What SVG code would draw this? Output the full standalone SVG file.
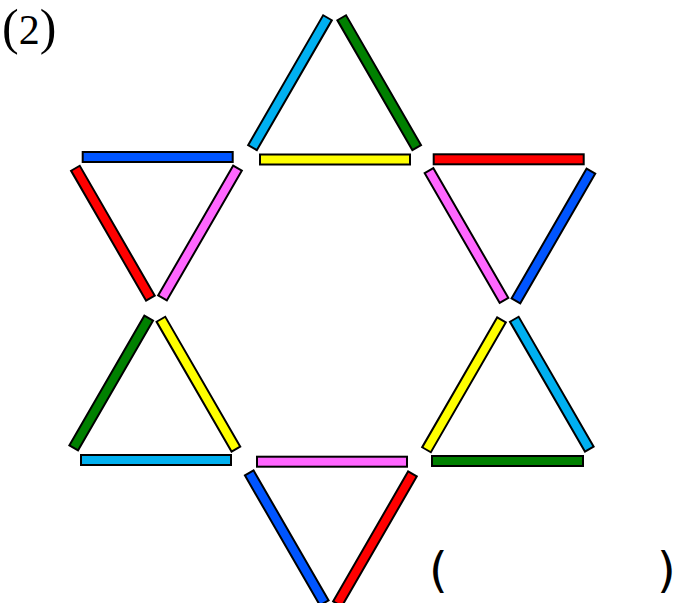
<svg xmlns="http://www.w3.org/2000/svg" width="680" height="603" viewBox="0 0 680 603">
<style>
.s{stroke:#000;stroke-width:2;stroke-linejoin:miter}
.cy{fill:#00b0f0}.gr{fill:#008000}.ye{fill:#ffff00}.bl{fill:#0055ff}.rd{fill:#ff0000}.pk{fill:#ff66ff}
.lbl{font-family:"Liberation Serif","Times New Roman",serif;font-size:42px;fill:#000}
.big{font-size:50px}
.par{font-family:"DejaVu Sans",sans-serif;font-size:48px;fill:#000}
</style>
<rect width="680" height="603" fill="#fff"/>
<text class="lbl" x="2" y="43.5"><tspan class="big">(</tspan>2<tspan class="big">)</tspan></text>
<g id="tri-top">
<rect class="s cy" x="-75" y="-5" width="150" height="10" transform="translate(290,82.7) rotate(-60)"/>
<rect class="s gr" x="-75" y="-5" width="150" height="10" transform="translate(379.2,82.7) rotate(60)"/>
<rect class="s ye" x="260" y="154.5" width="150" height="10"/>
</g>
<g id="tri-upper-left">
<rect class="s bl" x="82.7" y="152" width="150" height="10"/>
<rect class="s rd" x="-75" y="-5" width="150" height="10" transform="translate(112.9,233.2) rotate(60)"/>
<rect class="s pk" x="-75" y="-5" width="150" height="10" transform="translate(200,233) rotate(-60)"/>
</g>
<g id="tri-upper-right">
<rect class="s rd" x="433.7" y="154.3" width="150" height="10"/>
<rect class="s pk" x="-75" y="-5" width="150" height="10" transform="translate(466.5,235.5) rotate(60)"/>
<rect class="s bl" x="-75" y="-5" width="150" height="10" transform="translate(553.4,236) rotate(-60)"/>
</g>
<g id="tri-lower-left">
<rect class="s gr" x="-75" y="-5" width="150" height="10" transform="translate(111.2,383) rotate(-60)"/>
<rect class="s ye" x="-75" y="-5" width="150" height="10" transform="translate(198.4,384.2) rotate(60)"/>
<rect class="s cy" x="81" y="455" width="150" height="10"/>
</g>
<g id="tri-lower-right">
<rect class="s ye" x="-75" y="-5" width="150" height="10" transform="translate(464,384.8) rotate(-60)"/>
<rect class="s cy" x="-75" y="-5" width="150" height="10" transform="translate(551.8,384.2) rotate(60)"/>
<rect class="s gr" x="432" y="456" width="151" height="10"/>
</g>
<g id="tri-bottom">
<rect class="s pk" x="257" y="456.7" width="150" height="10"/>
<rect class="s bl" x="-75" y="-5" width="150" height="10" transform="translate(286.75,537.9) rotate(60)"/>
<rect class="s rd" x="-75" y="-5" width="150" height="10" transform="translate(374.95,538.9) rotate(-60)"/>
</g>
<g id="connectors"></g>
<text class="par" x="429" y="587">(</text>
<text class="par" x="657" y="587">)</text>
</svg>
